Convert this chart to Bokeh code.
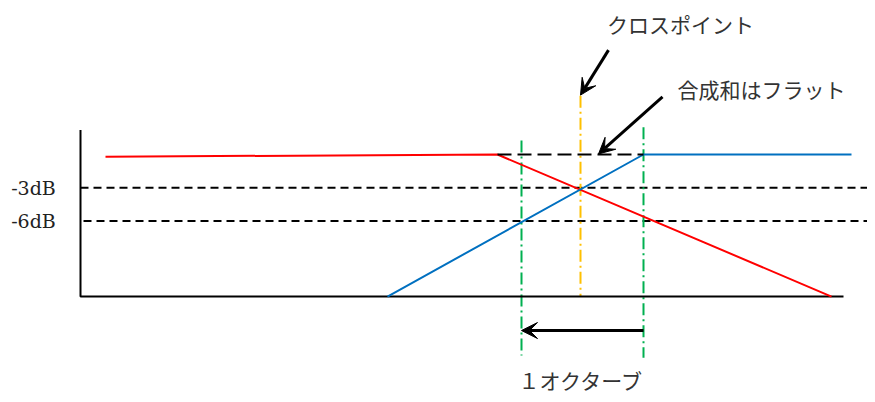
from bokeh.plotting import figure
from bokeh.models import Range1d, Arrow, VeeHead
from bokeh.embed import file_html
from bokeh.resources import INLINE
from bokeh.core.properties import value

# ---- data (x: horizontal position along the frequency axis, y: level in dB) ----
PX_PER_DB = 11.1
floor_db = -12.8          # level of the horizontal (frequency) axis
axis_x = [80, 80, 843]    # L-shaped axes: top of y axis, corner, end of x axis
axis_db = [2.2, -12.8, -12.8]

red_x = [105, 497, 831]
red_db = [-0.2, 0.0, -12.8]

blue_x = [387, 643, 851]
blue_db = [-12.8, 0.0, 0.0]

sum_x = [497, 643]
sum_db = [0.0, 0.0]

ref_levels = [-3, -6]
ref_labels = ["-3dB", "-6dB"]
ref_start_x = [80, 83]
ref_end_x = [880, 880]

octave_x = [521, 643]
octave_top_db = [1.26, 2.45]
octave_bottom_db = [-18.1, -18.3]
octave_arrow_db = -15.86

cross_x = 580
cross_top_db = 5.3

cross_label = "クロスポイント"
cross_label_pos = (680, 11.8)
cross_arrow = (608, 9.4, 580, 5.35)

flat_label = "合成和はフラット"
flat_label_pos = (761, 5.9)
flat_arrow = (662, 5.2, 598, 0.05)

octave_label = "１オクターブ"
octave_label_pos = (581, -20.3)

label_x = 33

W, H = 867, 394
p = figure(width=W, height=H, output_backend="svg", toolbar_location=None,
           x_range=Range1d(0, W),
           y_range=Range1d(-(H - 154) / PX_PER_DB, 154 / PX_PER_DB),
           min_border=0, outline_line_color=None)
p.axis.visible = False
p.grid.visible = False
p.background_fill_color = "white"
p.border_fill_color = "white"

# reference level dashed lines
for lvl, x0, x1 in zip(ref_levels, ref_start_x, ref_end_x):
    p.line([x0, x1], [lvl, lvl], line_color="black", line_width=2, line_dash="8 5")

# green octave markers
for xv, t, b in zip(octave_x, octave_top_db, octave_bottom_db):
    p.line([xv, xv], [t, b], line_color="#00B050", line_width=2, line_dash="12 4 2 4")

# orange crossover marker
p.line([cross_x, cross_x], [cross_top_db, floor_db], line_color="#FFC000",
       line_width=2, line_dash="12 4 2 4")

# axes
p.line(axis_x, axis_db, line_color="black", line_width=2)

# curves
p.line(red_x, red_db, line_color="#FF0000", line_width=2)
p.line(blue_x, blue_db, line_color="#0070C0", line_width=2)
p.line(sum_x, sum_db, line_color="black", line_width=2, line_dash="14 6")

# arrows
p.add_layout(Arrow(x_start=cross_arrow[0], y_start=cross_arrow[1],
                   x_end=cross_arrow[2], y_end=cross_arrow[3],
                   line_width=3, line_color="black",
                   end=VeeHead(size=16, fill_color="black", line_color="black")))
p.add_layout(Arrow(x_start=flat_arrow[0], y_start=flat_arrow[1],
                   x_end=flat_arrow[2], y_end=flat_arrow[3],
                   line_width=3, line_color="black",
                   end=VeeHead(size=16, fill_color="black", line_color="black")))
p.add_layout(Arrow(x_start=octave_x[1], y_start=octave_arrow_db,
                   x_end=octave_x[0], y_end=octave_arrow_db,
                   line_width=3, line_color="black",
                   end=VeeHead(size=16, fill_color="black", line_color="black")))

# texts
p.text(x=[label_x] * len(ref_levels), y=ref_levels, text=ref_labels,
       text_font=value("DejaVu Serif"), text_font_size="19px",
       text_align="center", text_baseline="middle", text_color="#222222")

jp_x = [cross_label_pos[0], flat_label_pos[0], octave_label_pos[0]]
jp_y = [cross_label_pos[1], flat_label_pos[1], octave_label_pos[1]]
jp_t = [cross_label, flat_label, octave_label]
p.text(x=jp_x, y=jp_y, text=jp_t, text_font=value("Noto Sans CJK JP"),
       text_font_size="21px", text_align="center", text_baseline="middle",
       text_color="#333333")

open("out.html", "w").write(file_html(p, INLINE))
